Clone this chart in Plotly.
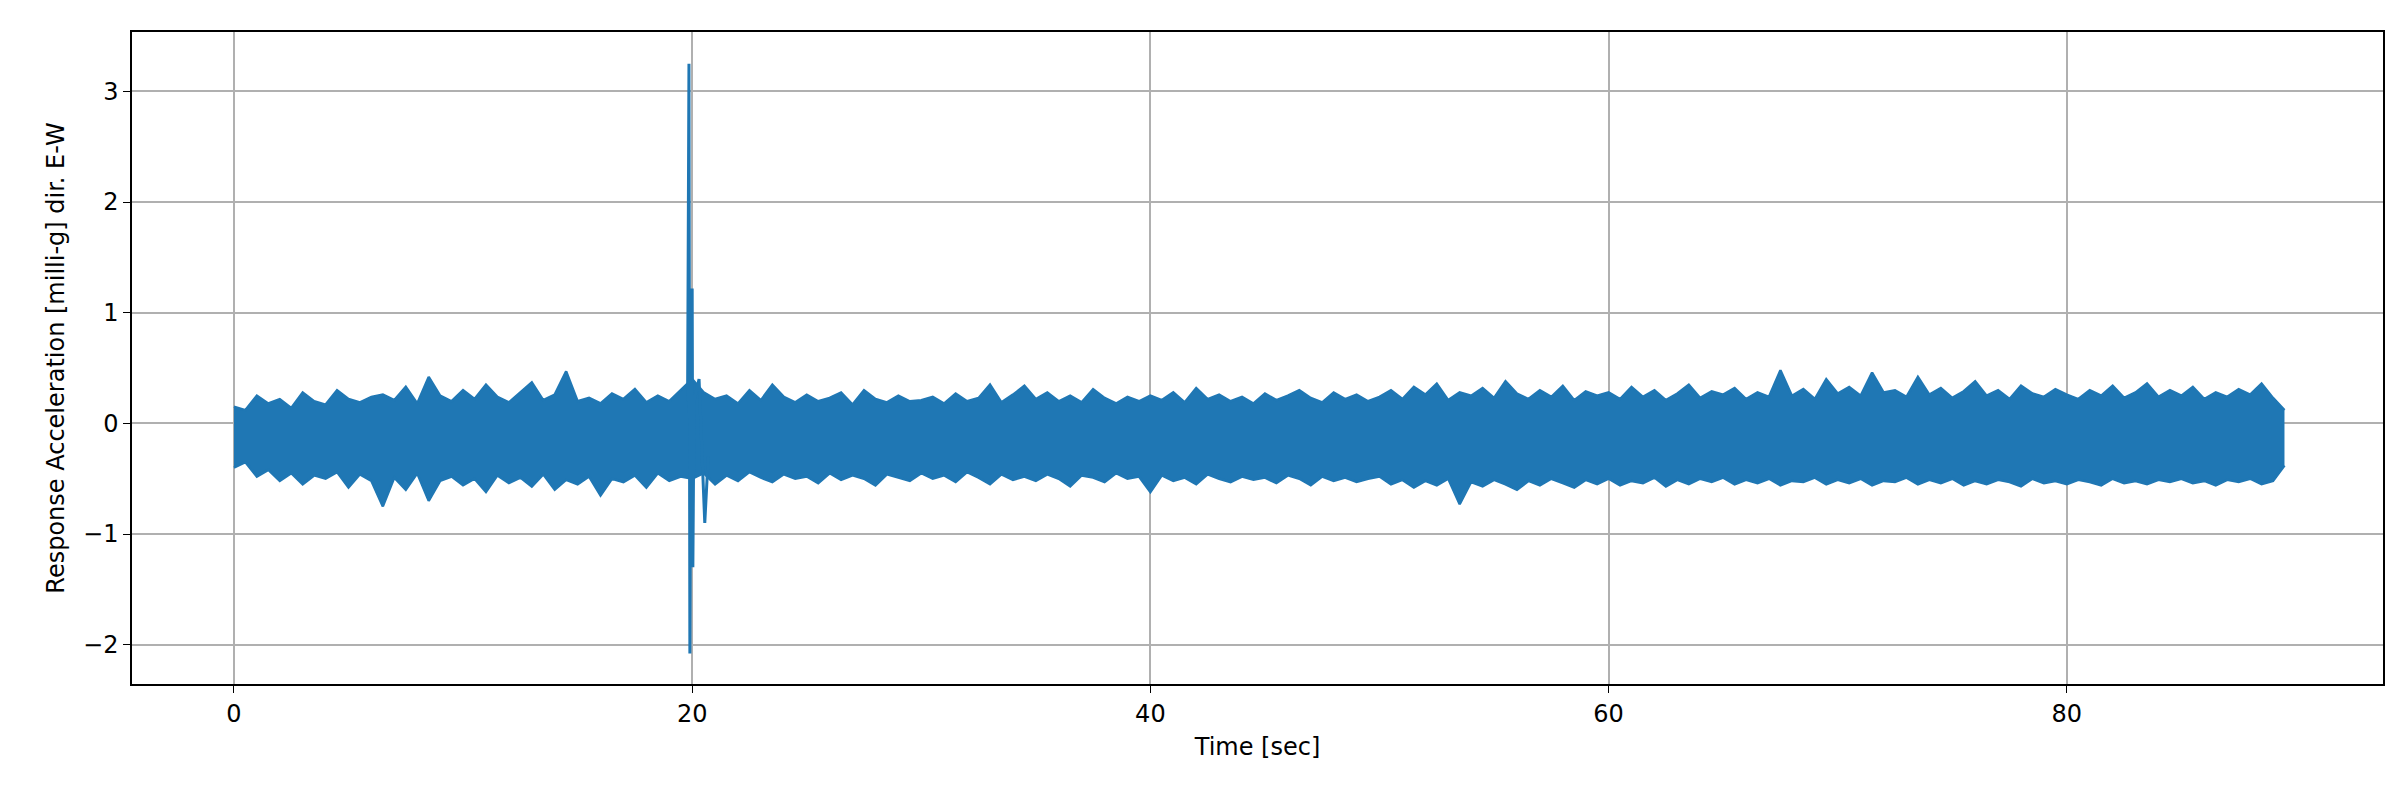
import plotly.graph_objects as go

# Upper envelope peaks, read every 0.5 s from t=0.0
upper = [
 0.15,0.12,0.25,0.18,0.22,0.14,0.28,0.20,0.17,0.30, 0.22,0.19,0.24,0.26,0.21,0.33,0.18,0.42,0.25,0.20,
 0.30,0.22,0.35,0.24,0.19,0.28,0.37,0.21,0.26,0.47,0.20,0.23,0.18,0.27,0.22,0.31,0.19,0.25,0.20,0.30,
 0.40,0.28,0.22,0.25,0.18,0.30,0.21,0.35,0.24,0.19, 0.26,0.20,0.23,0.28,0.17,0.30,0.22,0.19,0.25,0.20,
 0.21,0.24,0.18,0.27,0.20,0.23,0.35,0.19,0.26,0.34, 0.22,0.28,0.20,0.25,0.19,0.31,0.23,0.18,0.24,0.20,
 0.25,0.21,0.28,0.19,0.32,0.22,0.26,0.20,0.24,0.18, 0.27,0.21,0.25,0.30,0.23,0.19,0.28,0.22,0.26,0.20,
 0.24,0.30,0.22,0.33,0.26,0.36,0.21,0.28,0.25,0.32, 0.23,0.38,0.27,0.22,0.30,0.24,0.34,0.21,0.29,0.25,
 0.28,0.22,0.33,0.24,0.30,0.21,0.27,0.35,0.23,0.29, 0.26,0.32,0.22,0.28,0.24,0.48,0.25,0.31,0.22,0.40,
 0.27,0.33,0.25,0.46,0.28,0.30,0.24,0.42,0.26,0.32, 0.23,0.29,0.38,0.25,0.30,0.22,0.34,0.27,0.24,0.31,
 0.26,0.22,0.30,0.25,0.34,0.23,0.28,0.36,0.24,0.30, 0.25,0.33,0.22,0.28,0.24,0.31,0.26,0.36,0.23,0.12,
]
# Lower envelope peaks, read every 0.5 s from t=0.0
lower = [
 -0.40,-0.35,-0.48,-0.42,-0.52,-0.45,-0.55,-0.47,-0.50,-0.44, -0.58,-0.46,-0.52,-0.75,-0.49,-0.60,-0.45,-0.70,-0.52,-0.48,
 -0.56,-0.50,-0.62,-0.47,-0.54,-0.49,-0.57,-0.46,-0.60,-0.51, -0.55,-0.48,-0.65,-0.50,-0.53,-0.47,-0.58,-0.45,-0.52,-0.48,
 -0.50,-0.45,-0.55,-0.47,-0.52,-0.44,-0.49,-0.53,-0.46,-0.50, -0.48,-0.54,-0.45,-0.51,-0.47,-0.50,-0.56,-0.46,-0.49,-0.52,
 -0.45,-0.50,-0.47,-0.53,-0.44,-0.49,-0.55,-0.46,-0.51,-0.48, -0.52,-0.46,-0.50,-0.57,-0.47,-0.49,-0.53,-0.45,-0.50,-0.48,
 -0.62,-0.47,-0.52,-0.49,-0.55,-0.46,-0.50,-0.53,-0.48,-0.51, -0.49,-0.54,-0.47,-0.50,-0.56,-0.48,-0.52,-0.49,-0.53,-0.50,
 -0.48,-0.55,-0.51,-0.58,-0.52,-0.56,-0.50,-0.73,-0.53,-0.57, -0.51,-0.55,-0.60,-0.52,-0.56,-0.50,-0.54,-0.58,-0.51,-0.55,
 -0.50,-0.56,-0.52,-0.54,-0.49,-0.57,-0.51,-0.55,-0.50,-0.53, -0.49,-0.55,-0.51,-0.54,-0.50,-0.56,-0.52,-0.53,-0.49,-0.55,
 -0.51,-0.54,-0.50,-0.56,-0.52,-0.53,-0.49,-0.55,-0.51,-0.54, -0.50,-0.56,-0.52,-0.55,-0.51,-0.53,-0.57,-0.50,-0.54,-0.52,
 -0.55,-0.51,-0.53,-0.56,-0.50,-0.54,-0.52,-0.55,-0.51,-0.53, -0.50,-0.54,-0.52,-0.56,-0.51,-0.53,-0.50,-0.55,-0.52,-0.38,
]
# Shock event near 20 s
spike_t = [19.80, 19.86, 19.90, 19.95, 20.00, 20.03, 20.08, 20.30, 20.55, 20.70]
spike_v = [0.20, 3.25, -2.08, 0.90, 1.22, -1.30, 0.20, 0.40, -0.90, -0.30]

step = 0.5
t = [i * step for i in range(len(upper))]
blue = "#1f77b4"

fig = go.Figure()
fig.add_trace(go.Scatter(x=t, y=upper, mode="lines", line=dict(color=blue, width=2.5)))
fig.add_trace(go.Scatter(x=t, y=lower, mode="lines", line=dict(color=blue, width=2.5),
                         fill="tonexty", fillcolor=blue))
fig.add_trace(go.Scatter(x=spike_t, y=spike_v, mode="lines", line=dict(color=blue, width=3)))

font = dict(size=24, family="DejaVu Sans", color="black")
ax = dict(showline=True, linecolor="black", linewidth=1.5, mirror=True, showgrid=True,
          gridcolor="#b0b0b0", gridwidth=1.5, zeroline=False, ticks="outside", ticklen=7,
          tickcolor="black", tickfont=font)
fig.update_layout(
    width=2400, height=800, plot_bgcolor="white", paper_bgcolor="white", showlegend=False,
    margin=dict(l=124, r=25, t=24, b=124),
    xaxis=dict(ax, range=[-4.45, 93.8], tickvals=[0, 20, 40, 60, 80],
               title=dict(text="Time [sec]", font=font, standoff=12)),
    yaxis=dict(ax, range=[-2.355, 3.537], tickvals=[-2, -1, 0, 1, 2, 3],
               ticktext=["\u22122", "\u22121", "0", "1", "2", "3"],
               title=dict(text="Response Acceleration [milli-g] dir. E-W", font=font, standoff=12)),
)
fig.write_html("out.html")
